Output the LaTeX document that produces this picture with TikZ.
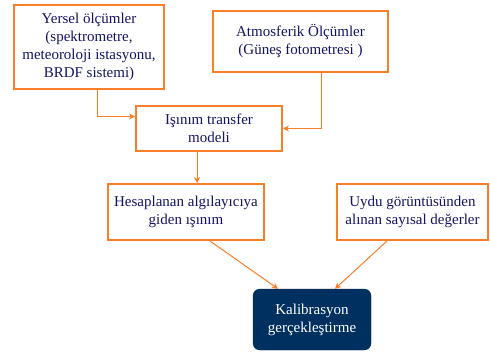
\documentclass[tikz,border=0pt]{standalone}
\usepackage{fontspec}
\setmainfont{Liberation Serif}
\usepackage{tikz}
\usetikzlibrary{arrows.meta}
\usepackage{xcolor}
\definecolor{ColA}{RGB}{250,125,40}
\definecolor{ColB}{RGB}{0,48,96}
\definecolor{ColT}{RGB}{20,20,100}
\tikzstyle{BoxFlow}=[rectangle,draw=ColA,line width=2pt,fill=white,align=center,
text=ColT,inner sep=0pt,font=\fontsize{15}{18}\selectfont]
\tikzstyle{BoxEnd}=[rectangle,rounded corners=7pt,draw=ColB!70!black,fill=ColB,align=center,
text=white,inner sep=0pt,font=\fontsize{15}{18}\selectfont]
\tikzstyle{EdgeFlow}=[ColA,line width=1pt,-{Stealth[length=6pt,width=6pt]}]

\begin{document}
\begin{tikzpicture}[x=1pt,y=-1pt]
        \useasboundingbox(0,0)rectangle(490,351);
        \node[BoxFlow,minimum width=150pt,minimum height=84pt](a)at(89,47)
            {Yersel ölçümler\\(spektrometre,\\meteoroloji istasyonu,\\BRDF sistemi)};
        \node[BoxFlow,minimum width=175pt,minimum height=61pt](b)at(300.5,41.5)
            {Atmosferik Ölçümler\\(Güneş fotometresi )};
        \node[BoxFlow,minimum width=146pt,minimum height=45pt](c)at(209,128.5)
            {Işınım transfer\\modeli};
        \node[BoxFlow,minimum width=156pt,minimum height=56pt](d)at(186,212)
            {Hesaplanan algılayıcıya\\giden ışınım};
        \node[BoxFlow,minimum width=151pt,minimum height=56pt](e)at(412.5,212)
            {Uydu görüntüsünden\\alınan sayısal değerler};
        \node[BoxEnd,minimum width=118pt,minimum height=61pt](f)at(312,319.5)
            {Kalibrasyon\\gerçekleştirme};
        \draw[EdgeFlow]([xshift=8pt]a.south)|-([yshift=12pt]c.west);
        \draw[EdgeFlow]([xshift=20.5pt]b.south)|-(c.east);
        \draw[EdgeFlow]([xshift=-12pt]c.south)--([xshift=11pt]d.north);
        \draw[EdgeFlow]([xshift=24pt]d.south)--([xshift=-34pt]f.north);
        \draw[EdgeFlow]([xshift=-25.5pt]e.south)--([xshift=23pt]f.north);
    \end{tikzpicture}
\end{document}
